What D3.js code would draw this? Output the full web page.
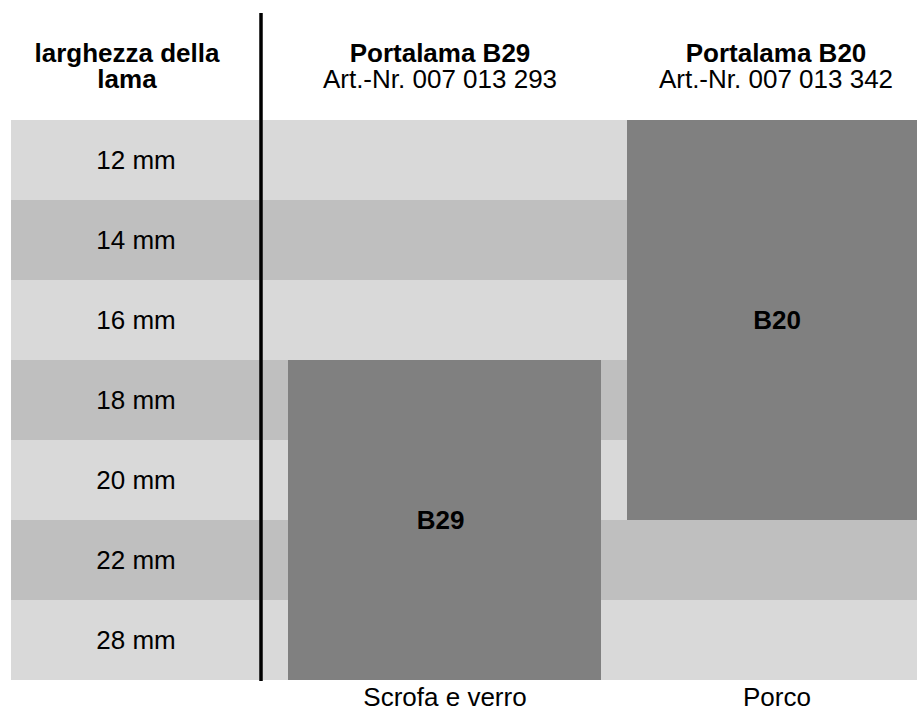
<html lang="it">
<head>
  <meta charset="UTF-8">
  <title>Portalama</title>
  <style>
    body { margin: 0; background: #fff; }
    text { font-family: "Liberation Sans", Arial, sans-serif; fill: #000; }
  </style>
</head>
<body>
  <script src="https://d3js.org/d3.v7.min.js"></script>
  <div id="chart"></div>
  <script>
    // row categories
    let sizes = ["12 mm", "14 mm", "16 mm", "18 mm", "20 mm", "22 mm", "28 mm"];
    let rowHeader = ["larghezza della", "lama"];

    // products (columns)
    let products = ["B29", "B20"];
    let productTitles = ["Portalama B29", "Portalama B20"];
    let artNumbers = ["Art.-Nr. 007 013 293", "Art.-Nr. 007 013 342"];
    let spanFrom = ["18 mm", "12 mm"];
    let spanTo = ["28 mm", "20 mm"];
    let usage = ["Scrofa e verro", "Porco"];

    let bandColours = ["#d9d9d9", "#bfbfbf"];
    let boxColour = "#808080";

    var width = 917, height = 708;

    var svg = d3.select("#chart")
      .append("svg")
      .attr("width", width)
      .attr("height", height);

    // rows
    var y = d3.scaleBand()
      .domain(sizes)
      .range([120, 680])
      .paddingInner(0);

    // columns: left edge and right edge of each product box
    var xLeft = d3.scaleOrdinal().domain(products).range([288, 627]);
    var xRight = d3.scaleOrdinal().domain(products).range([601, 917]);
    var headCenter = d3.scaleOrdinal().domain(products).range([440, 776]);
    var labelCenter = 136;

    // background bands
    svg.selectAll("rect.band")
      .data(sizes)
      .enter()
      .append("rect")
      .attr("class", "band")
      .attr("x", 11)
      .attr("y", d => y(d))
      .attr("width", width - 11)
      .attr("height", y.bandwidth())
      .attr("fill", (d, i) => bandColours[i % 2]);

    // row labels
    svg.selectAll("text.size")
      .data(sizes)
      .enter()
      .append("text")
      .attr("class", "size")
      .attr("x", labelCenter)
      .attr("y", d => y(d) + y.bandwidth() / 2 + 9.3)
      .attr("text-anchor", "middle")
      .attr("font-size", "26px")
      .text(d => d);

    // product boxes
    svg.selectAll("rect.box")
      .data(products)
      .enter()
      .append("rect")
      .attr("class", "box")
      .attr("x", d => xLeft(d))
      .attr("y", (d, i) => y(spanFrom[i]))
      .attr("width", d => xRight(d) - xLeft(d))
      .attr("height", (d, i) => y(spanTo[i]) + y.bandwidth() - y(spanFrom[i]))
      .attr("fill", boxColour);

    svg.selectAll("text.boxlabel")
      .data(products)
      .enter()
      .append("text")
      .attr("class", "boxlabel")
      .attr("x", d => (xLeft(d) + xRight(d)) / 2 + (d == "B29" ? -4 : 5))
      .attr("y", (d, i) => (y(spanFrom[i]) + y(spanTo[i]) + y.bandwidth()) / 2 + 8.5)
      .attr("text-anchor", "middle")
      .attr("font-size", "26px")
      .attr("font-weight", "bold")
      .text(d => d);

    // header for row labels
    svg.selectAll("text.rowhead")
      .data(rowHeader)
      .enter()
      .append("text")
      .attr("class", "rowhead")
      .attr("x", 127)
      .attr("y", (d, i) => 62 + i * 26)
      .attr("text-anchor", "middle")
      .attr("font-size", "26px")
      .attr("font-weight", "bold")
      .text(d => d);

    // product headers
    svg.selectAll("text.title")
      .data(productTitles)
      .enter()
      .append("text")
      .attr("class", "title")
      .attr("x", (d, i) => headCenter(products[i]))
      .attr("y", 62)
      .attr("text-anchor", "middle")
      .attr("font-size", "26px")
      .attr("font-weight", "bold")
      .text(d => d);

    svg.selectAll("text.art")
      .data(artNumbers)
      .enter()
      .append("text")
      .attr("class", "art")
      .attr("x", (d, i) => headCenter(products[i]))
      .attr("y", 88)
      .attr("text-anchor", "middle")
      .attr("font-size", "26px")
      .text(d => d);

    // footer
    svg.selectAll("text.usage")
      .data(usage)
      .enter()
      .append("text")
      .attr("class", "usage")
      .attr("x", (d, i) => headCenter(products[i]) + (i == 0 ? 5 : 1))
      .attr("y", 706)
      .attr("text-anchor", "middle")
      .attr("font-size", "26px")
      .text(d => d);

    // vertical separator
    svg.append("line")
      .attr("x1", 261)
      .attr("x2", 261)
      .attr("y1", 13)
      .attr("y2", y.range()[1] + 1)
      .attr("stroke", "black")
      .attr("stroke-width", 3.5);
  </script>
</body>
</html>
